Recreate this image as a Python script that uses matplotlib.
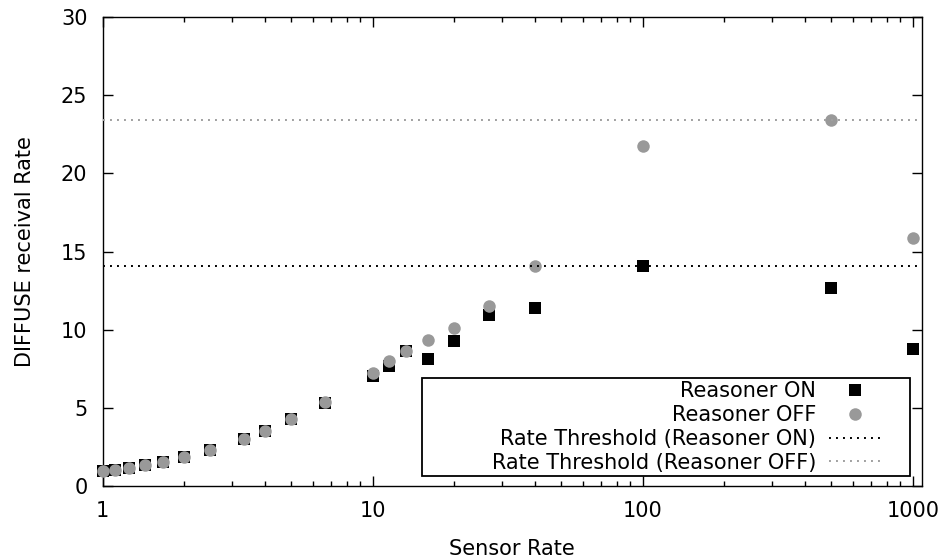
import matplotlib
matplotlib.use('Agg')
import matplotlib.pyplot as plt
from matplotlib.patches import Rectangle
from matplotlib.ticker import LogLocator, NullFormatter, FixedLocator

# sensor rate (x) and DIFFUSE receival rate (y)
rate = [1, 1.11, 1.25, 1.43, 1.67, 2, 2.5, 3.33, 4, 5, 6.67,
        10, 11.5, 13.3, 16, 20, 27, 40, 100, 500, 1000]
recv_on = [0.95, 1.03, 1.17, 1.35, 1.56, 1.86, 2.29, 2.99, 3.53, 4.29, 5.28,
           7.05, 7.65, 8.61, 8.14, 9.28, 10.96, 11.39, 14.08, 12.65, 8.76]
recv_off = [0.95, 1.03, 1.17, 1.35, 1.56, 1.86, 2.29, 2.99, 3.53, 4.29, 5.40,
            7.26, 8.01, 8.61, 9.31, 10.1, 11.54, 14.06, 21.75, 23.40, 15.85]
thr_on = 14.08
thr_off = 23.40

x_ticks = [1, 10, 100, 1000]
y_ticks = [0, 5, 10, 15, 20, 25, 30]

plt.rcParams['font.family'] = 'DejaVu Sans'
plt.rcParams['font.size'] = 15

fig = plt.figure(figsize=(9.46, 5.6), dpi=100)
ax = fig.add_axes([0.1086, 0.1321, 0.866, 0.8375])

ax.plot(rate, recv_on, 's', color='black', ms=8.6, mew=0, clip_on=False,
        label='Reasoner ON', zorder=3)
ax.plot(rate, recv_off, 'o', color='#999999', ms=9, mew=0, clip_on=False,
        label='Reasoner OFF', zorder=4)
ax.axhline(thr_on, color='black', lw=1.4, ls=(0, (1, 2.6)),
           label='Rate Threshold (Reasoner ON)', zorder=5)
ax.axhline(thr_off, color='#a0a0a0', lw=1.4, ls=(0, (1, 2.6)),
           label='Rate Threshold (Reasoner OFF)', zorder=5)

ax.set_xscale('log')
ax.set_xlim(1, 1082)
ax.set_ylim(0, 30)
ax.xaxis.set_major_locator(FixedLocator(x_ticks))
ax.set_xticklabels([str(t) for t in x_ticks])
ax.xaxis.set_minor_locator(LogLocator(base=10, subs=range(2, 10)))
ax.xaxis.set_minor_formatter(NullFormatter())
ax.set_yticks(y_ticks)

ax.tick_params(which='both', direction='in', top=True, right=True, width=1.0)
ax.tick_params(which='major', length=7)
ax.tick_params(which='minor', length=3.5)
ax.tick_params(axis='x', which='major', pad=11)
ax.tick_params(axis='y', which='major', pad=11)
for s in ax.spines.values():
    s.set_linewidth(1.0)

ax.set_xlabel('Sensor Rate', labelpad=13)
ax.set_ylabel('DIFFUSE receival Rate', labelpad=19)

# key box
box = Rectangle((0.3897, 0.0213), 0.5956, 0.2089, transform=ax.transAxes,
                facecolor='white', edgecolor='black', lw=1.3, zorder=6)
ax.add_patch(box)
leg = ax.legend(loc='upper right', bbox_to_anchor=(0.955, 0.232),
                frameon=False, markerfirst=False, handlelength=2.5,
                handletextpad=0.6, labelspacing=0.18, borderpad=0.2,
                borderaxespad=0)
leg.set_zorder(7)

fig.savefig('out.png', dpi=100)
